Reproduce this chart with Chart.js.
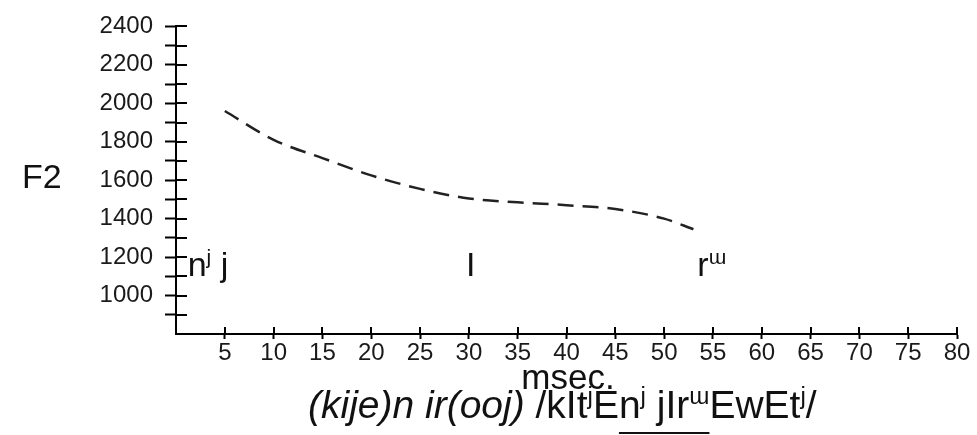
<!DOCTYPE html>
<html>
<head>
<meta charset="utf-8">
<script src="https://cdn.jsdelivr.net/npm/chart.js@4"></script>
<style>
  html, body { margin: 0; padding: 0; background: #fff; }
  #wrap { width: 977px; height: 435px; }
</style>
</head>
<body>
<div id="wrap"><canvas id="f2Canvas" width="977" height="435"></canvas></div>
<script>
// time (msec) and F2 (Hz)
const msec = [5, 10, 15, 20, 25, 30, 35, 40, 45, 50, 53];
const f2 = [1960, 1810, 1715, 1625, 1555, 1505, 1485, 1470, 1450, 1400, 1345];

// phone labels under the curve
const phoneText = ["nʲ j", "I", "rɯ"];
const phoneAt = [1.2, 30.2, 53.4];
const phoneAlign = ["left", "center", "left"];
const phoneBase = 1100;

const FONT = "'Liberation Sans', Arial, sans-serif";

// draw a run of text pieces, some raised as superscripts, some underlined
function drawRich(ctx, pieces, x, y, size) {
    let cx = x;
    let ulStart = null;
    pieces.forEach(p => {
        const s = p.sup ? size * 0.62 : size;
        ctx.font = (p.it ? "italic " : "") + s + "px " + FONT;
        const dy = p.sup ? -size * 0.36 : 0;
        ctx.fillText(p.t, cx, y + dy);
        const w = ctx.measureText(p.t).width;
        if (p.ul && ulStart === null) ulStart = cx;
        if (!p.ul && ulStart !== null) {
            ctx.fillRect(ulStart, y + 14, cx - ulStart, 2);
            ulStart = null;
        }
        cx += w;
    });
    return cx - x;
}

function split(txt) {
    // "^" marks the next char as superscript
    const out = [];
    for (let i = 0; i < txt.length; i++) {
        if (txt[i] === "^") { out.push({ t: txt[i + 1], sup: true }); i++; }
        else out.push({ t: txt[i] });
    }
    return out;
}

const caption = [
    { t: "(kije)n ir(ooj) ", it: true },
    { t: "/kIt" }, { t: "j", sup: true }, { t: "E" },
    { t: "n", ul: true }, { t: "j", sup: true, ul: true }, { t: " jIr", ul: true },
    { t: "ɯ", sup: true, ul: true },
    { t: "EwEt" }, { t: "j", sup: true }, { t: "/" }
];

const extras = {
    id: "extras",
    afterDraw(chart) {
        const ctx = chart.ctx;
        const xs = chart.scales.x, ys = chart.scales.y;
        const area = chart.chartArea;
        ctx.save();
        // inner half of the tick marks (ticks cross the axes)
        ctx.strokeStyle = "#000";
        ctx.lineWidth = 2;
        ctx.beginPath();
        ys.ticks.forEach(t => {
            if (t.value === 800) return;
            const py = Math.round(ys.getPixelForValue(t.value));
            ctx.moveTo(area.left, py);
            ctx.lineTo(area.left + 11, py);
        });
        xs.ticks.forEach(t => {
            if (t.value === 0) return;
            const px = Math.round(xs.getPixelForValue(t.value));
            ctx.moveTo(px, area.bottom);
            ctx.lineTo(px, area.bottom - 7);
        });
        ctx.stroke();

        ctx.fillStyle = "#111";
        ctx.textBaseline = "alphabetic";
        ctx.textAlign = "left";

        // phone labels
        const by = ys.getPixelForValue(phoneBase);
        phoneText.forEach((txt, i) => {
            const parts = split(txt.replace("ʲ", "^j").replace("ɯ", "^ɯ"));
            let w = 0;
            parts.forEach(p => {
                ctx.font = (p.sup ? 34 * 0.62 : 34) + "px " + FONT;
                w += ctx.measureText(p.t).width;
            });
            let px = xs.getPixelForValue(phoneAt[i]);
            if (phoneAlign[i] === "center") px -= w / 2;
            drawRich(ctx, parts, px, by, 34);
        });

        // F2 axis title
        ctx.font = "34px " + FONT;
        ctx.fillText("F2", 22, 188);

        // msec. axis title
        ctx.font = "35px " + FONT;
        ctx.textAlign = "center";
        ctx.fillText("msec.", 568, 389);
        ctx.textAlign = "left";

        // caption
        drawRich(ctx, caption, 308, 418, 39);
        ctx.restore();
    }
};

new Chart(document.getElementById("f2Canvas"), {
    type: "line",
    data: {
        datasets: [{
            data: msec.map((m, i) => ({ x: m, y: f2[i] })),
            borderColor: "#222",
            borderWidth: 2.5,
            borderDash: [16, 9],
            pointRadius: 0,
            fill: false,
            cubicInterpolationMode: "monotone"
        }]
    },
    options: {
        responsive: false,
        animation: false,
        layout: { padding: { top: 23, right: 20, left: 0, bottom: 0 } },
        plugins: { legend: { display: false }, tooltip: { enabled: false } },
        scales: {
            x: {
                type: "linear",
                min: 0,
                max: 80,
                afterFit(scale) { scale.height = 101; },
                border: { display: true, color: "#000", width: 2 },
                grid: {
                    drawOnChartArea: false, tickLength: 5, tickWidth: 2,
                    tickColor: c => (c.tick && c.tick.value === 0 ? "rgba(0,0,0,0)" : "#000")
                },
                ticks: {
                    stepSize: 5,
                    autoSkip: false,
                    maxRotation: 0,
                    padding: 0,
                    color: "#1a1a1a",
                    font: { family: FONT, size: 24 },
                    callback: v => (v === 0 ? "" : v)
                }
            },
            y: {
                min: 800,
                max: 2400,
                afterFit(scale) { scale.width = 176; },
                border: { display: true, color: "#000", width: 2 },
                grid: {
                    drawOnChartArea: false, tickLength: 11, tickWidth: 2,
                    tickColor: c => (c.tick && c.tick.value === 800 ? "rgba(0,0,0,0)" : "#000")
                },
                ticks: {
                    stepSize: 100,
                    autoSkip: false,
                    padding: 12,
                    color: "#1a1a1a",
                    font: { family: FONT, size: 24 },
                    callback: v => (v >= 1000 && v % 200 === 0 ? v : "")
                }
            }
        }
    },
    plugins: [extras]
});
</script>
</body>
</html>
